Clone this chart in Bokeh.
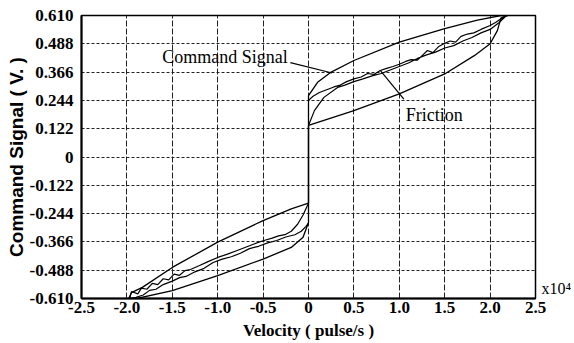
from bokeh.plotting import figure
from bokeh.models import FixedTicker, Label, Range1d, LinearAxis
from bokeh.embed import file_html
from bokeh.resources import INLINE

# ---- data (velocity in x10^4 pulse/s, command signal in V) ----
x_ticks = [-2.5, -2.0, -1.5, -1.0, -0.5, 0.0, 0.5, 1.0, 1.5, 2.0, 2.5]
x_tick_labels = ["-2.5", "-2.0", "-1.5", "-1.0", "-0.5", "0", "0.5", "1.0", "1.5", "2.0", "2.5"]
y_ticks = [-0.610, -0.488, -0.366, -0.244, -0.122, 0.0, 0.122, 0.244, 0.366, 0.488, 0.610]
y_tick_labels = ["-0.610", "-0.488", "-0.366", "-0.244", "-0.122", "0", "0.122", "0.244", "0.366", "0.488", "0.610"]
x_scale_note = "x10\u2074"
x_scale_note_pos = -0.567

# Command signal, positive-velocity loop
cmd_pos_x = [0.0, 0.10, 0.25, 0.5, 1.0, 1.5, 1.86, 2.12, 2.2,
             2.12, 2.08, 2.0, 1.83, 1.5, 1.0, 0.5, 0.0, 0.0]
cmd_pos_y = [0.265, 0.322, 0.366, 0.416, 0.495, 0.553, 0.59, 0.61, 0.61,
             0.60, 0.545, 0.488, 0.438, 0.358, 0.272, 0.20, 0.136, 0.265]
# Command signal, jump through zero velocity
cmd_zero_x = [0.0, 0.0]
cmd_zero_y = [0.136, -0.199]
# Command signal, negative-velocity loop
cmd_neg_x = [0.0, -0.19, -0.5, -1.0, -1.5, -1.83, -1.95, -1.98,
             -1.89, -1.5, -1.0, -0.5, -0.19, -0.06, 0.0, 0.0]
cmd_neg_y = [-0.199, -0.224, -0.274, -0.367, -0.476, -0.562, -0.585, -0.61,
             -0.61, -0.576, -0.511, -0.44, -0.39, -0.346, -0.282, -0.199]

# Friction, positive-velocity loop (noisy)
fr_pos_x = [0.0, 0.05, 0.12, 0.2, 0.28, 0.35, 0.42, 0.5, 0.58, 0.65, 0.72, 0.79, 0.86,
            0.93, 1.0, 1.07, 1.13, 1.2, 1.26, 1.31, 1.37, 1.43, 1.5, 1.56, 1.62, 1.68,
            1.75, 1.82, 1.9, 2.0, 2.06, 2.12, 2.18,
            2.1, 2.0, 1.9, 1.8, 1.7, 1.6, 1.5, 1.4, 1.3, 1.2, 1.1, 1.0, 0.9, 0.8, 0.7,
            0.6, 0.5, 0.4, 0.32, 0.17, 0.065, 0.0]
fr_pos_y = [0.244, 0.262, 0.278, 0.29, 0.302, 0.31, 0.325, 0.337, 0.345, 0.36, 0.356, 0.373, 0.382,
            0.39, 0.40, 0.412, 0.42, 0.418, 0.44, 0.459, 0.45, 0.475, 0.49, 0.50, 0.495, 0.52,
            0.53, 0.535, 0.55, 0.567, 0.58, 0.596, 0.61,
            0.58, 0.55, 0.535, 0.515, 0.50, 0.48, 0.47, 0.452, 0.44, 0.425, 0.405, 0.39, 0.375, 0.36, 0.35,
            0.337, 0.325, 0.31, 0.30, 0.257, 0.20, 0.136]

# Friction, negative-velocity loop (noisy)
fr_neg_x = [0.0, -0.06, -0.12, -0.19, -0.26, -0.33, -0.4, -0.5, -0.6, -0.7, -0.8, -0.9, -1.0,
            -1.1, -1.2, -1.3, -1.36, -1.42, -1.48, -1.54, -1.6, -1.66, -1.72, -1.78, -1.84,
            -1.88, -1.95, -1.97,
            -1.9, -1.82, -1.75, -1.68, -1.6, -1.5, -1.42, -1.35, -1.25, -1.15, -1.05, -0.95,
            -0.85, -0.75, -0.65, -0.55, -0.45, -0.35, -0.25, -0.15, -0.08, -0.03, 0.0]
fr_neg_y = [-0.199, -0.25, -0.29, -0.32, -0.335, -0.34, -0.35, -0.361, -0.375, -0.39, -0.405, -0.42, -0.433,
            -0.45, -0.468, -0.485, -0.49, -0.51, -0.505, -0.53, -0.525, -0.55, -0.545, -0.57, -0.565,
            -0.59, -0.58, -0.61,
            -0.605, -0.595, -0.575, -0.57, -0.55, -0.535, -0.52, -0.515, -0.495, -0.48, -0.455, -0.44,
            -0.43, -0.415, -0.395, -0.385, -0.37, -0.36, -0.345, -0.335, -0.32, -0.30, -0.285]

# Annotation leader lines
lead_cmd_x = [-0.20, 0.26]
lead_cmd_y = [0.407, 0.362]
lead_fr_x = [0.79, 1.05]
lead_fr_y = [0.373, 0.25]

serif = "'Liberation Serif', 'Times New Roman', serif"
sans = "'Liberation Sans', Arial, sans-serif"

p = figure(width=574, height=343, output_backend="svg", toolbar_location=None,
           x_range=Range1d(-2.5, 2.5), y_range=Range1d(-0.61, 0.61),
           min_border_left=81, min_border_right=39, min_border_top=15, min_border_bottom=45)
p.background_fill_color = "white"
p.border_fill_color = "white"
p.outline_line_color = "black"
p.outline_line_width = 1.5

p.xaxis.ticker = FixedTicker(ticks=x_ticks)
p.yaxis.ticker = FixedTicker(ticks=y_ticks)
p.xaxis.major_label_overrides = {t: s for t, s in zip(x_ticks, x_tick_labels)}
p.yaxis.major_label_overrides = {t: s for t, s in zip(y_ticks, y_tick_labels)}

for ax in (p.xaxis, p.yaxis):
    ax.major_tick_out = 0
    ax.major_tick_in = 0
    ax.minor_tick_out = 0
    ax.minor_tick_in = 0
    ax.axis_line_width = 2
    ax.axis_line_color = "black"
    ax.major_label_text_color = "black"
    ax.major_label_text_font = serif
    ax.major_label_text_font_style = "bold"
    ax.major_label_text_font_size = "17px"
    ax.axis_label_text_color = "black"

p.yaxis.major_label_standoff = 8
p.xaxis.major_label_standoff = 3
p.xaxis.axis_label = "Velocity ( pulse/s )"
p.xaxis.axis_label_text_font = serif
p.xaxis.axis_label_text_font_style = "bold"
p.xaxis.axis_label_text_font_size = "17px"
p.xaxis.axis_label_standoff = 5
p.yaxis.axis_label = "Command Signal ( V. )"
p.yaxis.axis_label_text_font = sans
p.yaxis.axis_label_text_font_style = "bold"
p.yaxis.axis_label_text_font_size = "19px"
p.yaxis.axis_label_standoff = 0

# scale note "x10^4" at the right end of the x axis
note_axis = LinearAxis(ticker=FixedTicker(ticks=[x_scale_note_pos]),
                       major_label_overrides={x_scale_note_pos: x_scale_note})
note_axis.axis_line_color = None
note_axis.major_tick_out = 0
note_axis.major_tick_in = 0
note_axis.minor_tick_out = 0
note_axis.minor_tick_in = 0
note_axis.major_label_standoff = 6
note_axis.major_label_text_font = serif
note_axis.major_label_text_font_size = "16px"
note_axis.major_label_text_color = "black"
p.add_layout(note_axis, "right")

p.xgrid.grid_line_color = "#222222"
p.xgrid.grid_line_dash = "6 2"
p.xgrid.grid_line_width = 1
p.ygrid.grid_line_color = "#222222"
p.ygrid.grid_line_dash = "3 2"
p.ygrid.grid_line_width = 1

lc = "black"
p.line(cmd_pos_x, cmd_pos_y, line_color=lc, line_width=1.3)
p.line(cmd_zero_x, cmd_zero_y, line_color=lc, line_width=1.6)
p.line(cmd_neg_x, cmd_neg_y, line_color=lc, line_width=1.3)
p.line(fr_pos_x, fr_pos_y, line_color=lc, line_width=1.2)
p.line(fr_neg_x, fr_neg_y, line_color=lc, line_width=1.2)
p.line(lead_cmd_x, lead_cmd_y, line_color=lc, line_width=1.2)
p.line(lead_fr_x, lead_fr_y, line_color=lc, line_width=1.2)

p.add_layout(Label(x=-1.61, y=0.429, text="Command Signal", text_font=serif,
                   text_font_size="18px", text_color="black", text_baseline="middle",
                   text_align="left"))
p.add_layout(Label(x=1.07, y=0.179, text="Friction", text_font=serif,
                   text_font_size="18px", text_color="black", text_baseline="middle",
                   text_align="left"))

open("out.html", "w").write(file_html(p, INLINE))
